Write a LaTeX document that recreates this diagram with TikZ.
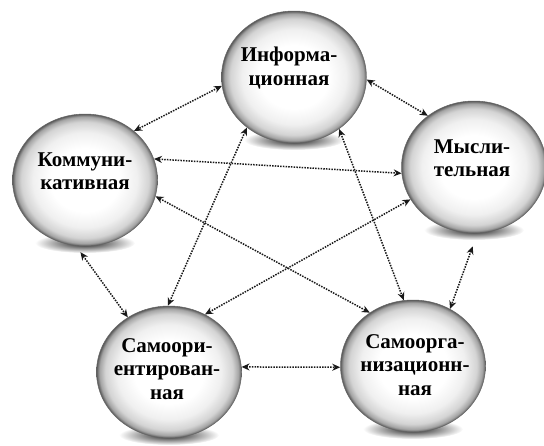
\documentclass[tikz,border=0pt]{standalone}
\usepackage{fontspec}
\setmainfont{Liberation Serif}
\usetikzlibrary{arrows.meta, shapes.geometric}
\pgfdeclareradialshading{glass}{\pgfpoint{0bp}{0bp}}{color(0bp)=(white); color(12bp)=(white); color(18bp)=(black!6); color(22bp)=(black!17); color(24bp)=(black!36); color(25bp)=(black!65); color(50bp)=(black!65)}

\begin{document}
\begin{tikzpicture}[x=1pt, y=-1pt,
  sphere/.style={ellipse, minimum width=145pt, minimum height=132pt, inner sep=0pt, shading=glass, draw=black!60, line width=0.5pt},
  caption/.style={align=center, inner sep=0pt, font=\bfseries\fontsize{21}{23.5}\selectfont},
  blob/.style={inner color=black!90, outer color=white},
  link/.style={{Stealth[length=8pt,width=7pt]}-{Stealth[length=8pt,width=7pt]}, dash pattern=on 1.5pt off 1.2pt, line width=1.5pt, black!90},
]
\useasboundingbox (0,0) rectangle (544,445);

% Shadows
\shade[blob] (294,140) ellipse (50 and 10);
\shade[blob] (85,243) ellipse (50 and 10);
\shade[blob] (474,230) ellipse (50 and 10);
\shade[blob] (169,435) ellipse (50 and 10);
\shade[blob] (413,429) ellipse (50 and 10);

% Spheres
\node[sphere] (inf) at (294,77) {};
\node[sphere] (kom) at (85,180) {};
\node[sphere] (mys) at (474,167) {};
\node[sphere] (sori) at (169,372) {};
\node[sphere] (sorg) at (413,366) {};

\node[caption] (inf-t) at ([xshift=-5pt, yshift=9pt]inf.center) {Информа-\\ционная};
\node[caption] (kom-t) at ([xshift=0pt, yshift=9pt]kom.center) {Коммуни-\\кативная};
\node[caption] (mys-t) at ([xshift=-2pt, yshift=9pt]mys.center) {Мысли-\\тельная};
\node[caption] (sori-t) at ([xshift=-2pt, yshift=3pt]sori.center) {Самоори-\\ентирован-\\ная};
\node[caption] (sorg-t) at ([xshift=2pt, yshift=1pt]sorg.center) {Самоорга-\\низационн-\\ная};

% Links
\draw[link] (inf.187) -- (kom.45);
\draw[link] (inf.-2) -- (mys.132);
\draw[link] (kom.17) -- (mys.185);
\draw[link] (kom.-13) -- (sorg.129);
\draw[link] (mys.207) -- (sori.58);
\draw[link] (inf.227) -- (sori.91);
\draw[link] (inf.-49) -- (sorg.98);
\draw[link, shorten <=8pt] (kom.262) -- (sori.127);
\draw[link, shorten <=14pt] (mys.273) -- (sorg.57);
\draw[link] (sori.4) -- (sorg.181);
\end{tikzpicture}
\end{document}
